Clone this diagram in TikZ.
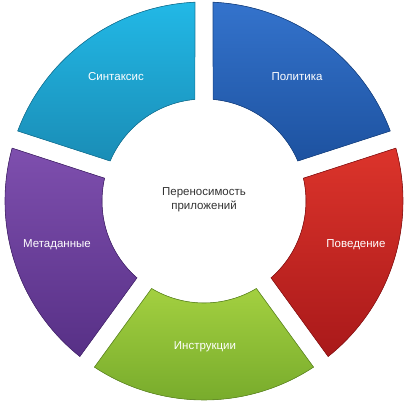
\documentclass[tikz,border=0pt]{standalone}
\usepackage{fontspec}
\setmainfont{Liberation Sans}

\definecolor{cyanA}{HTML}{22B8E6}
\definecolor{cyanB}{HTML}{1A8DB6}
\definecolor{blueA}{HTML}{3473CC}
\definecolor{blueB}{HTML}{1D52A0}
\definecolor{redA}{HTML}{DC342B}
\definecolor{redB}{HTML}{A9191A}
\definecolor{greenA}{HTML}{A3D040}
\definecolor{greenB}{HTML}{74A82A}
\definecolor{purpleA}{HTML}{7E4FAE}
\definecolor{purpleB}{HTML}{573086}

\begin{document}
\begin{tikzpicture}[
    x=1pt, y=1pt,
    seg/.style={draw=#1B!85!black, line width=0.6pt, top color=#1A, bottom color=#1B},
    lbl/.style={text=white, font=\fontsize{11.5}{13}\selectfont},
    every node/.style={inner sep=0pt}]

\useasboundingbox (-204,-202) rectangle (204,201);

% outer radius 199, inner radius 102, gap about 18px
\def\Ro{199} \def\Ri{102}
\def\dO{2.6} \def\dI{5.1}

% Politika
\fill[seg=blue] (18+\dO:\Ro) arc[start angle=18+\dO, end angle=90-\dO, radius=\Ro]
    -- (90-\dI:\Ri) arc[start angle=90-\dI, end angle=18+\dI, radius=\Ri] -- cycle;
% Sintaksis
\fill[seg=cyan] (90+\dO:\Ro) arc[start angle=90+\dO, end angle=162-\dO, radius=\Ro]
    -- (162-\dI:\Ri) arc[start angle=162-\dI, end angle=90+\dI, radius=\Ri] -- cycle;
% Metadannye
\fill[seg=purple] (162+\dO:\Ro) arc[start angle=162+\dO, end angle=234-\dO, radius=\Ro]
    -- (234-\dI:\Ri) arc[start angle=234-\dI, end angle=162+\dI, radius=\Ri] -- cycle;
% Instruktsii
\fill[seg=green] (234+\dO:\Ro) arc[start angle=234+\dO, end angle=306-\dO, radius=\Ro]
    -- (306-\dI:\Ri) arc[start angle=306-\dI, end angle=234+\dI, radius=\Ri] -- cycle;
% Povedenie
\fill[seg=red] (-54+\dO:\Ro) arc[start angle=-54+\dO, end angle=18-\dO, radius=\Ro]
    -- (18-\dI:\Ri) arc[start angle=18-\dI, end angle=-54+\dI, radius=\Ri] -- cycle;

\node[lbl] (politika) at (93,124) {Политика};
\node[lbl] (sintaksis) at (-88,124) {Синтаксис};
\node[lbl] (metadannye) at (-147,-44) {Метаданные};
\node[lbl] (instr) at (1,-146) {Инструкции};
\node[lbl] (povedenie) at (152,-44) {Поведение};

\node[align=center, text=black!80, font=\fontsize{11.5}{14}\selectfont] (center) at (0,1)
    {Переносимость\\приложений};

\end{tikzpicture}
\end{document}
